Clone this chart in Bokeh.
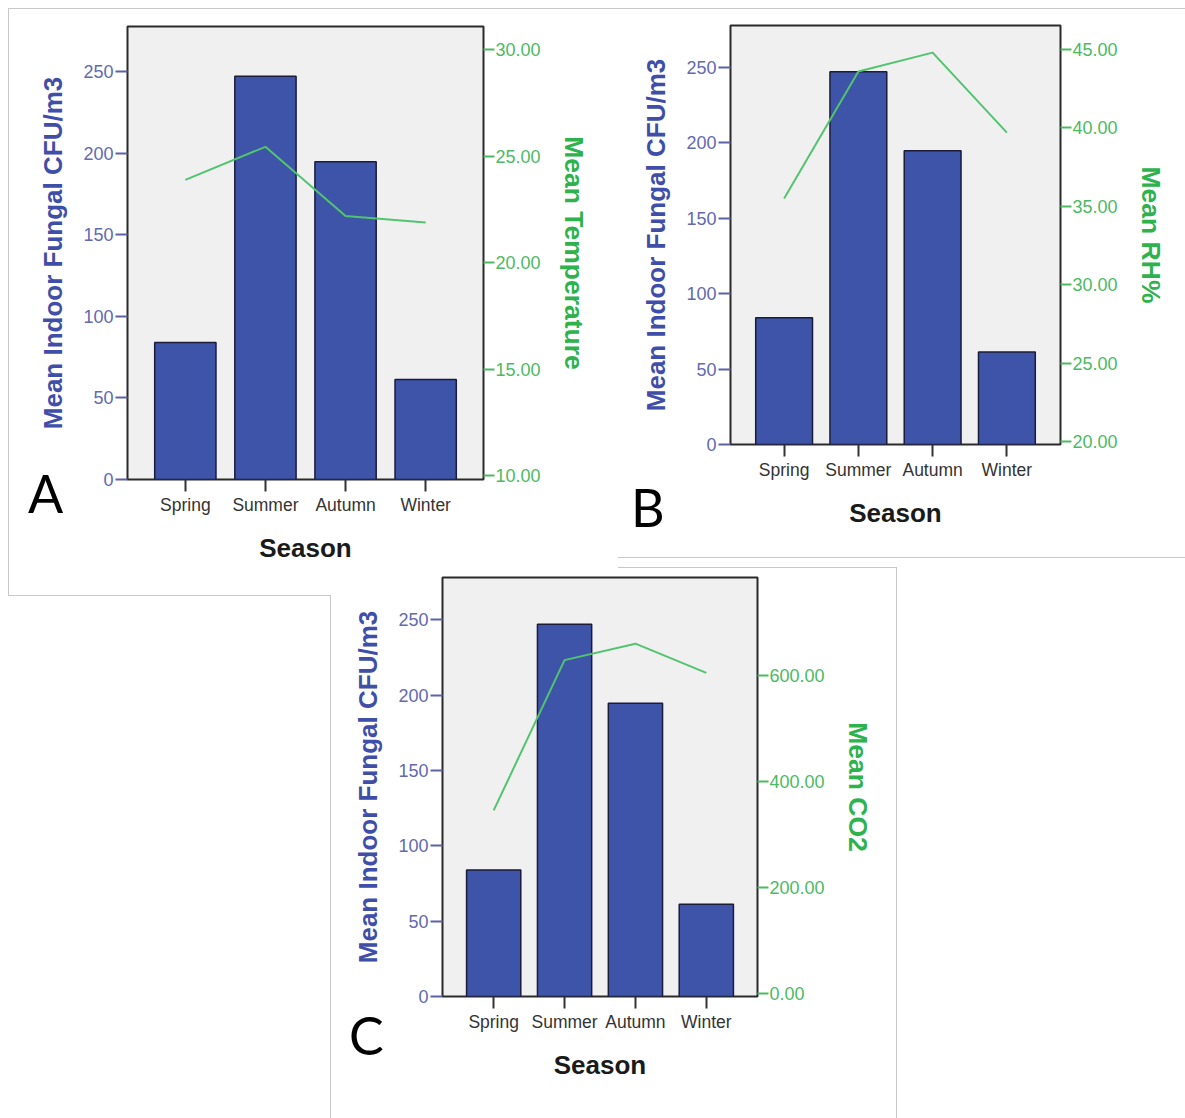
from bokeh.plotting import figure
from bokeh.models import (FactorRange, Range1d, LinearAxis, FixedTicker,
                          PrintfTickFormatter, Div)
from bokeh.layouts import column, row
from bokeh.embed import file_html
from bokeh.resources import INLINE

# ---------------- data ----------------
seasons = ["Spring", "Summer", "Autumn", "Winter"]
fungal = [84.0, 247.0, 194.7, 61.3]          # Mean Indoor Fungal CFU/m3
temperature = [23.9, 25.45, 22.2, 21.9]      # Mean Temperature
rh = [35.5, 43.6, 44.8, 39.7]                # Mean RH%
co2 = [345, 628, 659, 604]                   # Mean CO2
fungal_ticks = [0, 50, 100, 150, 200, 250]
temp_ticks = [10, 15, 20, 25, 30]
rh_ticks = [20, 25, 30, 35, 40, 45]
co2_ticks = [0, 200, 400, 600]
panel_letters = ["A", "B", "C"]

# ---------------- styles ----------------
FONT = "Liberation Sans"
BAR = "#3d54a8"
BAR_LINE = "#1b1b3a"
GREEN_LINE = "#52c470"
GREEN_TEXT = "#2eb24e"
GREEN_TICK = "#4cba62"
BLUE_TITLE = "#3f4ea8"
BLUE_TICK = "#6369b0"
BORDER = "#c8c8c8"


def make_panel(right_title, right_vals, right_ticks, right_range, left_top,
               width, height, bl, br, bt, bb):
    p = figure(x_range=FactorRange(*seasons, range_padding=0.222,
                                   range_padding_units="absolute"),
               y_range=Range1d(0, left_top),
               width=width, height=height,
               min_border_left=bl, min_border_right=br,
               min_border_top=bt, min_border_bottom=bb,
               output_backend="svg", toolbar_location=None, tools="")
    p.border_fill_alpha = 0
    p.background_fill_color = "#f0f0f0"
    p.outline_line_color = "#2a2a2a"
    p.outline_line_width = 2
    p.grid.visible = False

    p.vbar(x=seasons, top=fungal, width=0.765, fill_color=BAR,
           line_color=BAR_LINE, line_width=1.5)

    p.extra_y_ranges = {"r": Range1d(*right_range)}
    p.line(x=seasons, y=right_vals, y_range_name="r",
           line_color=GREEN_LINE, line_width=2)

    # left axis
    ya = p.yaxis[0]
    ya.ticker = FixedTicker(ticks=fungal_ticks)
    ya.axis_line_color = None
    ya.major_tick_out = 12
    ya.major_tick_in = 0
    ya.minor_tick_line_color = None
    ya.major_tick_line_color = "#5c62a8"
    ya.major_tick_line_width = 2
    ya.major_label_text_color = BLUE_TICK
    ya.major_label_text_font = FONT
    ya.major_label_text_font_size = "18px"
    ya.major_label_standoff = 2
    ya.axis_label = "Mean Indoor Fungal CFU/m3"
    ya.axis_label_text_font = FONT
    ya.axis_label_text_font_size = "26px"
    ya.axis_label_text_font_style = "bold"
    ya.axis_label_text_color = BLUE_TITLE
    ya.axis_label_standoff = 12

    # bottom axis
    xa = p.xaxis[0]
    xa.axis_line_color = None
    xa.major_tick_out = 12
    xa.major_tick_in = 0
    xa.major_tick_line_color = "#333333"
    xa.major_tick_line_width = 2
    xa.major_label_text_color = "#333333"
    xa.major_label_text_font = FONT
    xa.major_label_text_font_size = "17.5px"
    xa.major_label_standoff = 3
    xa.axis_label = "Season"
    xa.axis_label_text_font = FONT
    xa.axis_label_text_font_size = "26px"
    xa.axis_label_text_font_style = "bold"
    xa.axis_label_text_color = "#1a1a1a"
    xa.axis_label_standoff = 15

    # right axis
    ra = LinearAxis(y_range_name="r", ticker=FixedTicker(ticks=right_ticks),
                    formatter=PrintfTickFormatter(format="%.2f"))
    ra.axis_line_color = None
    ra.major_tick_out = 11
    ra.major_tick_in = 0
    ra.minor_tick_line_color = None
    ra.major_tick_line_color = GREEN_TICK
    ra.major_tick_line_width = 2
    ra.major_label_text_color = GREEN_TICK
    ra.major_label_text_font = FONT
    ra.major_label_text_font_size = "18px"
    ra.major_label_standoff = 1
    ra.axis_label = right_title
    ra.axis_label_text_font = FONT
    ra.axis_label_text_font_size = "26.5px"
    ra.axis_label_text_font_style = "bold"
    ra.axis_label_text_color = GREEN_TEXT
    ra.axis_label_standoff = 15
    p.add_layout(ra, "right")
    return p


# panel A: canvas x 0..618, y 0..567 ; panel B: x 618..1185, y 0..567
# panel C: canvas x 330..896, y 567..1118
pA = make_panel("Mean Temperature", temperature, temp_ticks, (9.825, 31.1), 277.5,
                618, 567, 127, 135, 26, 88)
pB = make_panel("Mean RH%", rh, rh_ticks, (19.82, 46.53), 277.7,
                567, 567, 112, 125, 25, 123)
pC = make_panel("Mean CO2", co2, co2_ticks, (-5.4, 783.6), 278.1,
                566, 551, 112, 139, 10, 122)

# panel letters, placed relative to the lower-left block (page y 567)
letter_pos = [(28, -100), (631, -86), (349, 442)]
spans = "".join(
    '<span style="position:absolute;left:%dpx;top:%dpx;font-family:Lato;'
    'font-size:52px;line-height:52px;color:#000;">%s</span>' % (x, y, t)
    for t, (x, y) in zip(panel_letters, letter_pos))
letters = Div(text='<div style="position:relative;width:330px;height:551px;">%s</div>' % spans,
              width=330, height=551, margin=0, styles={"overflow": "visible"})

# thin grey frame lines of the three screenshots (page coordinates)
lines = [
    (8, 8, 1177, 1),      # common top edge
    (8, 8, 1, 587),       # A left
    (8, 595, 322, 1),     # A bottom
    (618, 557, 567, 1),   # B bottom
    (618, 567, 278, 1),   # C top
    (330, 595, 1, 523),   # C left
    (896, 567, 1, 551),   # C right
]
styles = {
    "background-image": ", ".join(["linear-gradient(%s, %s)" % (BORDER, BORDER)] * len(lines)),
    "background-position": ", ".join("%dpx %dpx" % (x, y) for x, y, w, h in lines),
    "background-size": ", ".join("%dpx %dpx" % (w, h) for x, y, w, h in lines),
    "background-repeat": "no-repeat",
}

layout = column(row(column(pA), column(pB)), row(letters, pC), styles=styles)

open("out.html", "w").write(file_html(layout, INLINE))
